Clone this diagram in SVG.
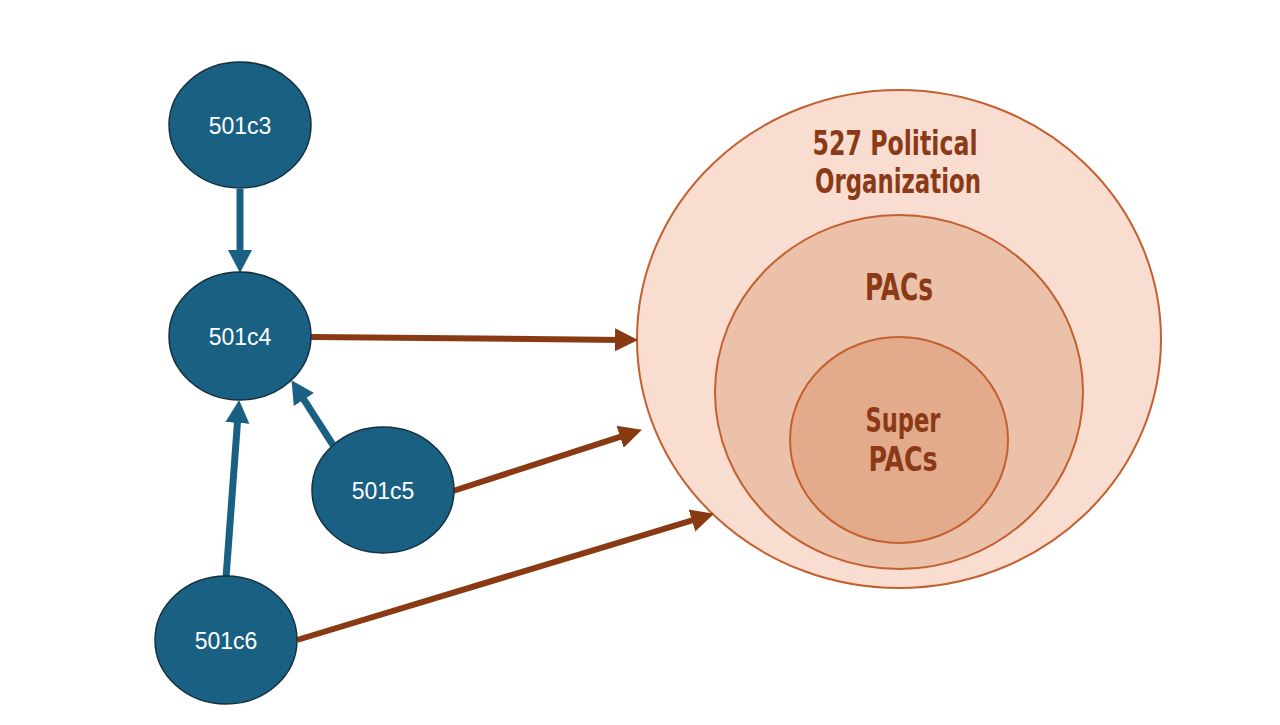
<svg xmlns="http://www.w3.org/2000/svg" width="1280" height="725" viewBox="0 0 1280 725">
<style>
.node{fill:#1a6083;stroke:#14303f;stroke-width:1.5}
.nt{font-family:"Liberation Sans",Arial,sans-serif;font-size:23px;fill:#ffffff;text-anchor:middle}
.ring{stroke:#c2602f;stroke-width:2}
.ct{font-family:"DejaVu Sans Condensed","DejaVu Sans",sans-serif;font-weight:bold;font-stretch:condensed;fill:#8a3a16;text-anchor:middle}
.blue{stroke:#1a6083;stroke-width:7;fill:none}
.brown{stroke:#8a3a12;stroke-width:6;fill:none}
</style>
<defs>
<marker id="hb" markerUnits="userSpaceOnUse" markerWidth="26" markerHeight="26" refX="8" refY="13" orient="auto" viewBox="0 0 26 26">
<path d="M0,1 L23,13 L0,25 Z" fill="#1a6083"/>
</marker>
<marker id="hr" markerUnits="userSpaceOnUse" markerWidth="26" markerHeight="26" refX="8" refY="13" orient="auto" viewBox="0 0 26 26">
<path d="M0,1.5 L23,13 L0,24.5 Z" fill="#8a3a12"/>
</marker>
</defs>
<rect width="1280" height="725" fill="#ffffff"/>
<g id="org527">
<ellipse cx="899" cy="339" rx="262" ry="249" fill="#f8ddd0" class="ring"/>
<text class="ct" x="895" y="155" font-size="33" textLength="165" lengthAdjust="spacingAndGlyphs">527 Political</text>
<text class="ct" x="898" y="193" font-size="33" textLength="166" lengthAdjust="spacingAndGlyphs">Organization</text>
</g>
<g id="pacs">
<ellipse cx="899" cy="392" rx="184" ry="177" fill="#ebc1a9" class="ring"/>
<text class="ct" x="899" y="300" font-size="38" textLength="68" lengthAdjust="spacingAndGlyphs">PACs</text>
</g>
<g id="superpacs">
<ellipse cx="899" cy="440" rx="109" ry="103" fill="#e3aa8b" class="ring"/>
<text class="ct" x="903" y="432" font-size="34" textLength="75" lengthAdjust="spacingAndGlyphs">Super</text>
<text class="ct" x="903" y="471" font-size="34" textLength="69" lengthAdjust="spacingAndGlyphs">PACs</text>
</g>
<g id="connectors">
<line class="blue" x1="240" y1="189" x2="240" y2="258" marker-end="url(#hb)"/>
<line class="blue" x1="333" y1="445" x2="299.6" y2="392.8" marker-end="url(#hb)"/>
<line class="blue" x1="226" y1="578" x2="238" y2="415" marker-end="url(#hb)"/>
<line class="brown" x1="311" y1="337" x2="623" y2="339.9" marker-end="url(#hr)"/>
<line class="brown" x1="453" y1="491" x2="627.7" y2="434.3" marker-end="url(#hr)"/>
<line class="brown" x1="297" y1="640" x2="699.6" y2="518.1" marker-end="url(#hr)"/>
</g>
<g id="n501c3">
<ellipse class="node" cx="240" cy="125" rx="71" ry="63"/>
<text class="nt" x="240" y="134">501c3</text>
</g>
<g id="n501c4">
<ellipse class="node" cx="240" cy="336" rx="71" ry="64"/>
<text class="nt" x="240" y="345">501c4</text>
</g>
<g id="n501c5">
<ellipse class="node" cx="383" cy="490" rx="71" ry="63"/>
<text class="nt" x="383" y="499">501c5</text>
</g>
<g id="n501c6">
<ellipse class="node" cx="226" cy="640" rx="71" ry="64"/>
<text class="nt" x="226" y="649">501c6</text>
</g>
</svg>
